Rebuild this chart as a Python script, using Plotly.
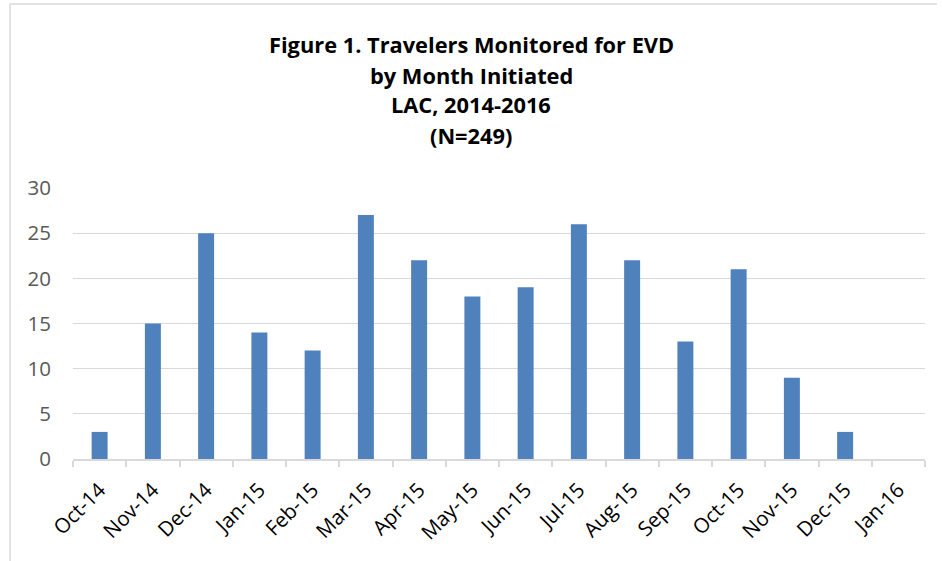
import plotly.graph_objects as go

months = ["Oct-14", "Nov-14", "Dec-14", "Jan-15", "Feb-15", "Mar-15", "Apr-15", "May-15",
          "Jun-15", "Jul-15", "Aug-15", "Sep-15", "Oct-15", "Nov-15", "Dec-15", "Jan-16"]
travelers = [3, 15, 25, 14, 12, 27, 22, 18, 19, 26, 22, 13, 21, 9, 3, 0]
y_ticks = [0, 5, 10, 15, 20, 25, 30]
title_lines = ["Figure 1. Travelers Monitored for EVD", "by Month Initiated",
               "LAC, 2014-2016", "(N=249)"]

W, H = 942, 561
L, R, T, B = 73, 17, 188, 102
plot_h = H - T - B
plot_w = W - L - R

fig = go.Figure(go.Bar(x=months, y=travelers, marker=dict(color="#4F81BD", line=dict(width=0)),
                       hoverinfo="x+y"))

FONT = "Open Sans"

def px_x(px):
    return (px - L) / plot_w

def px_y(py):
    return (H - B - py) / plot_h

annotations = []
line_y = [44, 75, 105, 135]
for txt, py in zip(title_lines, line_y):
    annotations.append(dict(text="<b>" + txt + "</b>", xref="paper", yref="paper",
                            x=px_x(471), y=px_y(py),
                            xanchor="center", yanchor="middle", showarrow=False,
                            font=dict(family=FONT, size=21.8, color="#000000")))

shapes = [
    dict(type="line", xref="paper", yref="paper", x0=px_x(10), x1=px_x(937), y0=px_y(4), y1=px_y(4),
         line=dict(color="#D9D9D9", width=1.5)),
    dict(type="line", xref="paper", yref="paper", x0=px_x(10), x1=px_x(10), y0=px_y(4), y1=px_y(565),
         line=dict(color="#D9D9D9", width=1.5)),
]

fig.update_layout(
    width=W, height=H,
    margin=dict(l=L, r=R, t=T, b=B, pad=0),
    paper_bgcolor="white", plot_bgcolor="white",
    bargap=0.70,
    showlegend=False,
    annotations=annotations,
    shapes=shapes,
    font=dict(family=FONT),
    xaxis=dict(type="category", tickangle=-45, tickfont=dict(family=FONT, size=20.5, color="#000000"),
               showline=True, linecolor="#D9D9D9", linewidth=1.5,
               ticks="outside", tickson="boundaries", ticklen=6, tickcolor="#D9D9D9", tickwidth=1.5,
               ticklabelstandoff=9,
               showgrid=False, fixedrange=True),
    yaxis=dict(range=[0, 30], tickvals=y_ticks, ticktext=[str(v) for v in y_ticks],
               tickfont=dict(family=FONT, size=20.5, color="#595959"),
               showgrid=True, gridcolor="#D9D9D9", gridwidth=1.2,
               zeroline=False, showline=False, ticks="", ticklabelstandoff=21, fixedrange=True),
)

fig.write_html("out.html", config={"displayModeBar": False},
               post_script="document.body.style.margin='0';document.body.style.padding='0';")
